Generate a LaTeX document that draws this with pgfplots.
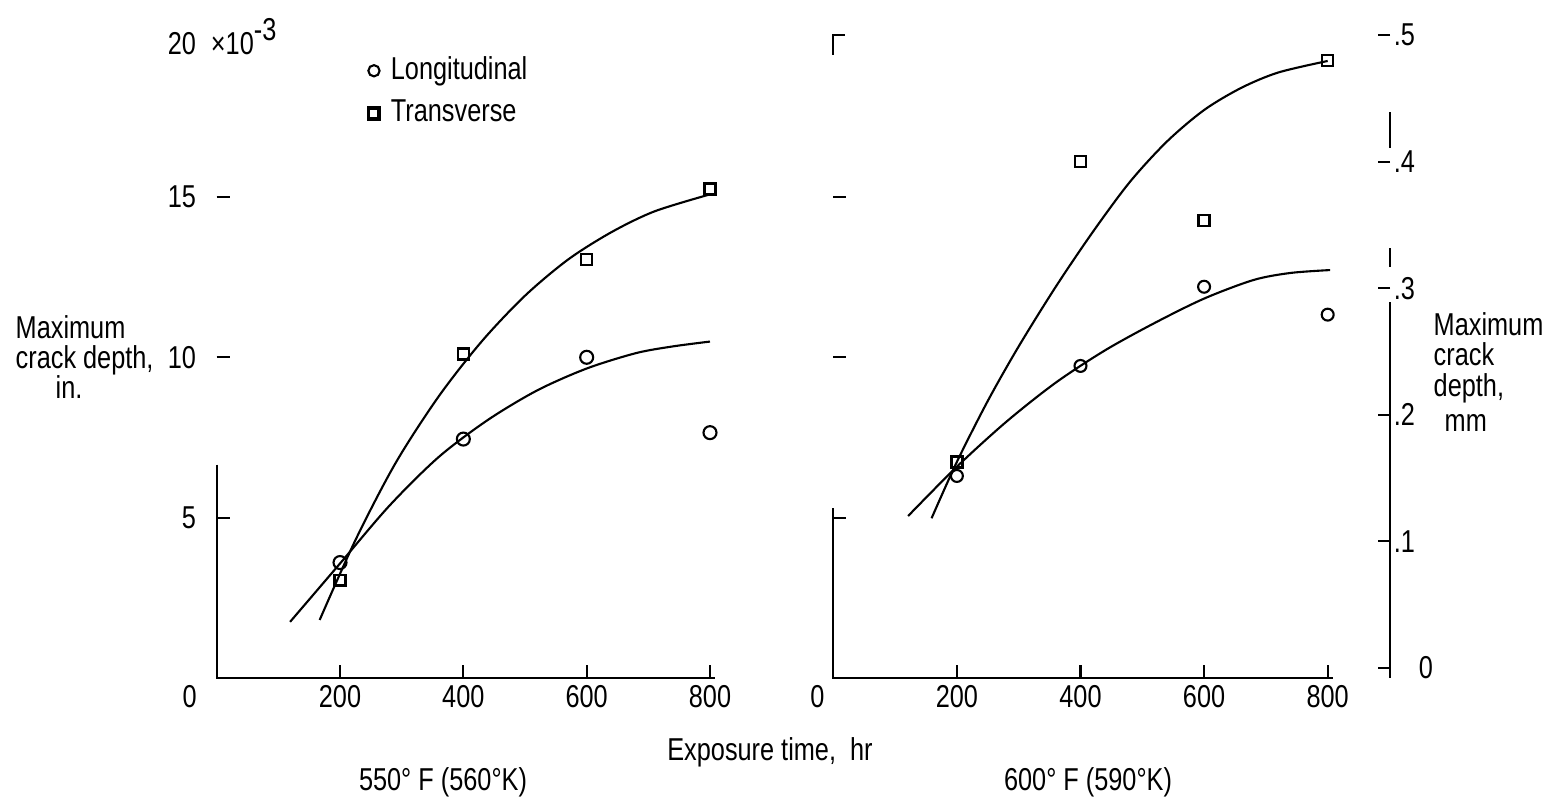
\documentclass[border=0pt]{standalone}
\usepackage{fontspec}
\setmainfont{Liberation Sans}[FakeStretch=0.8]
\usepackage{pgfplots}
\pgfplotsset{compat=1.18}

\pgfplotsset{
  panel/.style={
    scale only axis, width=4.933cm, height=6.414cm,
    xmin=0, xmax=800, ymin=0, ymax=20,
    axis line style={draw=none},
    tick align=inside, major tick length=1.3mm, tick pos=left,
    tick style={black, line width=0.6pt},
    xtick={200,400,600,800}, ytick={5,10,15},
    xticklabel style={inner sep=0pt, yshift=-0.7mm},
    yticklabel style={inner sep=0pt, xshift=-2mm},
    ticklabel style={font=\fontsize{9}{10}\selectfont},
    /pgf/number format/assume math mode=true,
    clip=false,
  },
  circ/.style={black, only marks, mark=o, mark size=1.85pt, mark options={line width=0.6pt}},
  sq/.style={black, only marks, mark=square, mark size=1.55pt, mark options={line width=0.7pt}},
  fit/.style={black, smooth, line width=0.6pt, no marks, forget plot},
  legc/.style={legend image code/.code={\draw[mark repeat=2,mark phase=2,##1,mark size=1.6pt] plot coordinates {(0cm,0cm)(0.15cm,0cm)(0.3cm,0cm)};}},
  legs/.style={legend image code/.code={\draw[mark repeat=2,mark phase=2,##1,mark options={line width=1.1pt}] plot coordinates {(0cm,0cm)(0.15cm,0cm)(0.3cm,0cm)};}},
}

\begin{document}
\fontsize{9}{8.6}\selectfont
\begin{tikzpicture}
\useasboundingbox (0,0) rectangle (15.44,8.00);

% left panel, 550 F
\begin{axis}[panel, at={(2.167cm,1.22cm)},
  legend style={draw=none, fill=none, inner sep=0pt, at={(0.306,0.9776)}, anchor=north west,
    row sep=0.5mm, column sep=0.6mm, nodes={inner sep=1.5pt}, font=\fontsize{9}{10}\selectfont},
  legend cell align=left]
\addplot[circ, legc] coordinates {(200,3.6) (400,7.45) (600,10.0) (800,7.65)};
\addplot[sq, legs] coordinates {(200,3.05) (400,10.1) (600,13.05) (800,15.25)};
\legend{Longitudinal, Transverse}
\addplot[fit] coordinates {(119,1.75) (200,3.57) (280,5.37) (360,6.89) (440,8.05) (520,8.97) (600,9.65) (680,10.13) (740,10.34) (800,10.49)};
\addplot[fit] coordinates {(167,1.81) (225,4.30) (290,6.70) (360,8.78) (430,10.50) (500,11.92) (570,13.05) (640,13.90) (710,14.55) (800,15.08)};
\draw[line width=0.6pt] (axis cs:0,6.65) -- (axis cs:0,0) -- (axis cs:808,0);
\node[anchor=east, inner sep=0pt, xshift=-2mm] at (axis cs:0,20) {20\rlap{\hspace{1.5mm}×10\raisebox{1.4mm}{-3}}};
\node[anchor=north, inner sep=0pt, xshift=-2.7mm, yshift=-0.7mm] at (axis cs:0,0) {0};
\end{axis}

% right panel, 600 F
\begin{axis}[panel, at={(8.333cm,1.22cm)}, width=4.944cm, yticklabels={}]
\addplot[circ, mark size=1.7pt] coordinates {(200,6.3) (400,9.73) (600,12.2) (800,11.33)};
\addplot[sq] coordinates {(200,6.73) (400,16.1) (600,14.26) (800,19.26)};
\addplot[fit] coordinates {(121,5.05) (200,6.59) (280,7.99) (360,9.21) (440,10.22) (520,11.07) (600,11.83) (680,12.41) (740,12.63) (804,12.72)};
\addplot[fit] coordinates {(159,4.98) (200,6.74) (250,8.64) (300,10.34) (360,12.20) (420,13.91) (480,15.47) (540,16.73) (600,17.71) (660,18.40) (720,18.88) (800,19.24)};
\draw[line width=0.6pt] (axis cs:0,5.3) -- (axis cs:0,0) -- (axis cs:808,0);
\draw[line width=0.6pt] (axis cs:0,19.43) -- (axis cs:0,20.05) -- (axis cs:19,20.05);
\node[anchor=north, inner sep=0pt, xshift=-1.6mm, yshift=-0.7mm] at (axis cs:0,0) {0};
\end{axis}

% mm scale on the right
\begin{axis}[scale only axis, at={(8.333cm,1.22cm)}, width=5.568cm, height=6.557cm,
  xmin=0, xmax=901, ymin=-0.0079, ymax=0.51,
  axis line style={draw=none}, xtick=\empty,
  ytick={0,0.1,0.2,0.3,0.4,0.5}, yticklabels={\hspace*{2.5mm}0,.1,.2,.3,.4,.5},
  ytick pos=right, tick align=inside, major tick length=1.2mm,
  tick style={black, line width=0.6pt},
  yticklabel style={anchor=west, inner sep=0pt, xshift=0.3mm, font=\fontsize{9}{10}\selectfont},
  clip=false]
\draw[line width=0.6pt] (axis cs:901,-0.0079) -- (axis cs:901,0.289);
\draw[line width=0.6pt] (axis cs:901,0.317) -- (axis cs:901,0.332);
\draw[line width=0.6pt] (axis cs:901,0.411) -- (axis cs:901,0.439);
\end{axis}

\node[anchor=west, align=left, inner sep=0pt] at (0.15,4.43) {Maximum\\crack depth,\\\hspace*{4mm}in.};
\node[anchor=north west, align=left, inner sep=0pt] at (14.33,4.88) {Maximum\\crack\\depth,\\[0.5mm]\hspace*{1.1mm}mm};
\node[inner sep=0pt] at (7.70,0.48) {Exposure time,\ \ hr};
\node[inner sep=0pt] at (4.43,0.18) {550° F (560°K)};
\node[inner sep=0pt] at (10.88,0.18) {600° F (590°K)};
\end{tikzpicture}
\end{document}
